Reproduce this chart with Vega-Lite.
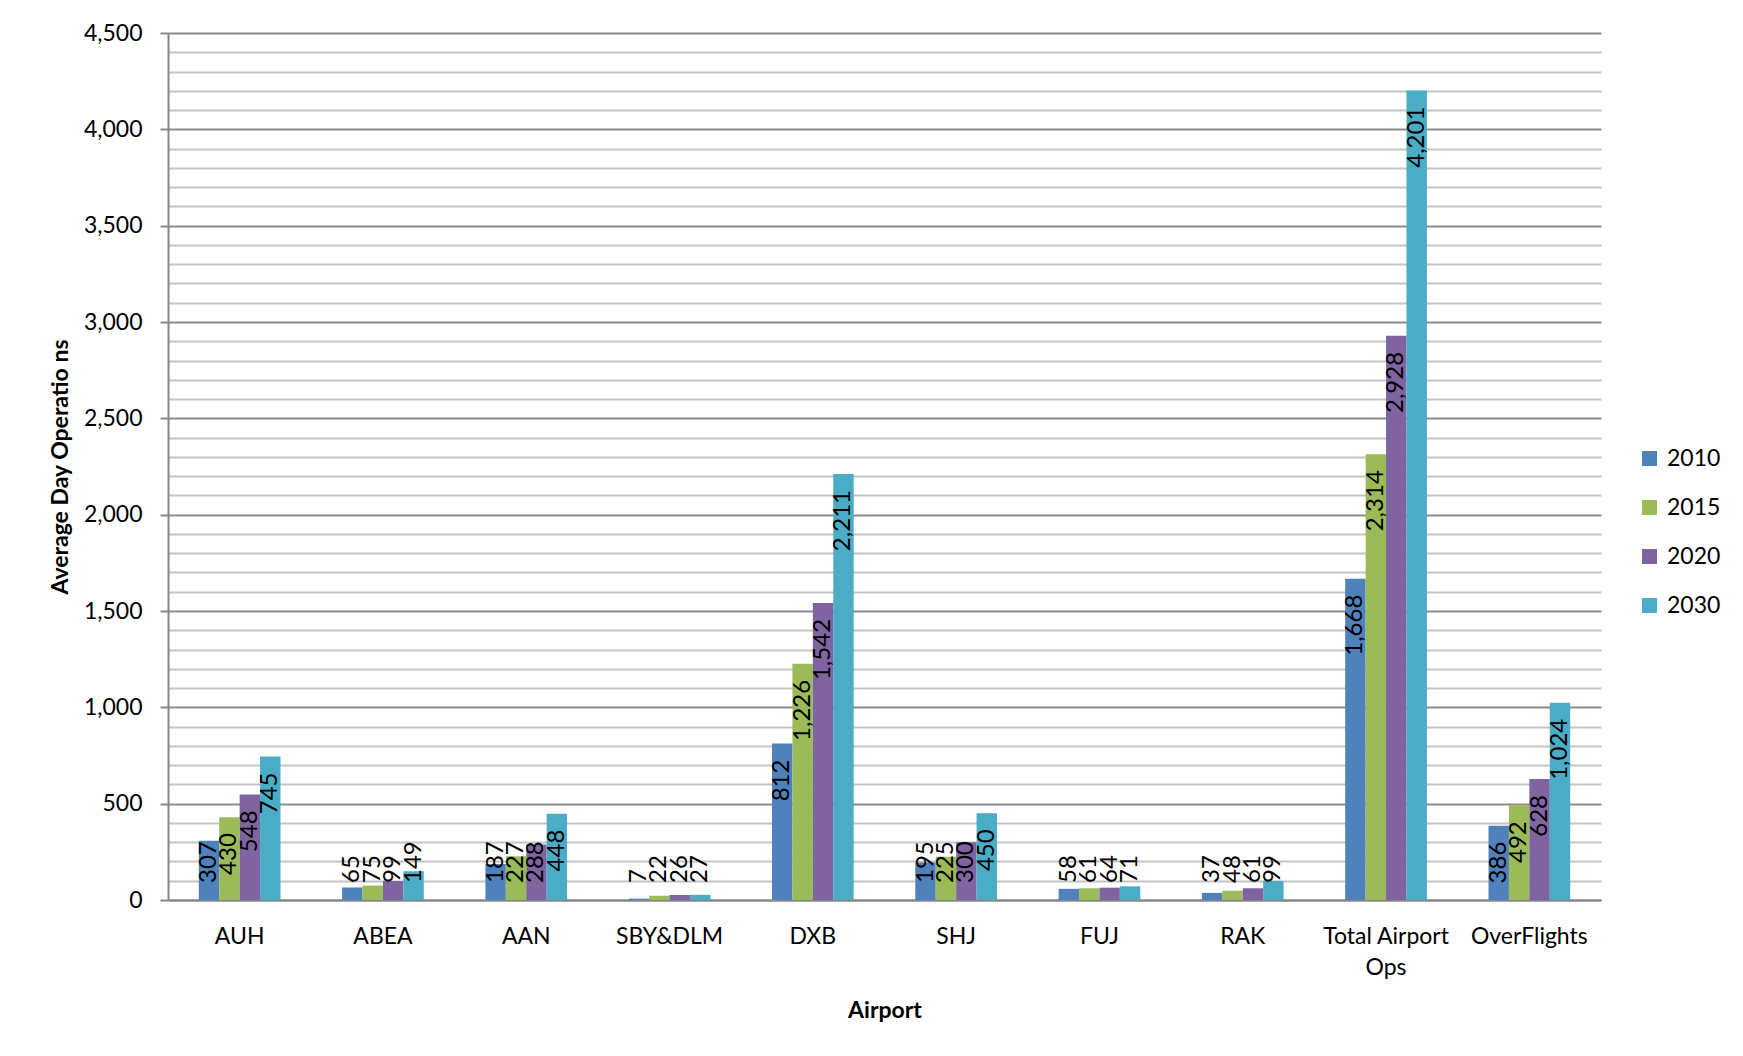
{
  "$schema": "https://vega.github.io/schema/vega-lite/v6.json",
  "autosize": "none",
  "width": 1433,
  "height": 867,
  "padding": {"left": 168, "top": 33, "right": 142, "bottom": 156},
  "background": "white",
  "config": {
    "font": "Lato",
    "view": {"stroke": null},
    "axis": {"labelFont": "Lato", "titleFont": "Lato", "labelColor": "black", "titleColor": "black"}
  },
  "data": {
    "values": [
      {"airport": "AUH", "year": "2010", "value": 307},
      {"airport": "AUH", "year": "2015", "value": 430},
      {"airport": "AUH", "year": "2020", "value": 548},
      {"airport": "AUH", "year": "2030", "value": 745},
      {"airport": "ABEA", "year": "2010", "value": 65},
      {"airport": "ABEA", "year": "2015", "value": 75},
      {"airport": "ABEA", "year": "2020", "value": 99},
      {"airport": "ABEA", "year": "2030", "value": 149},
      {"airport": "AAN", "year": "2010", "value": 187},
      {"airport": "AAN", "year": "2015", "value": 227},
      {"airport": "AAN", "year": "2020", "value": 288},
      {"airport": "AAN", "year": "2030", "value": 448},
      {"airport": "SBY&DLM", "year": "2010", "value": 7},
      {"airport": "SBY&DLM", "year": "2015", "value": 22},
      {"airport": "SBY&DLM", "year": "2020", "value": 26},
      {"airport": "SBY&DLM", "year": "2030", "value": 27},
      {"airport": "DXB", "year": "2010", "value": 812},
      {"airport": "DXB", "year": "2015", "value": 1226},
      {"airport": "DXB", "year": "2020", "value": 1542},
      {"airport": "DXB", "year": "2030", "value": 2211},
      {"airport": "SHJ", "year": "2010", "value": 195},
      {"airport": "SHJ", "year": "2015", "value": 225},
      {"airport": "SHJ", "year": "2020", "value": 300},
      {"airport": "SHJ", "year": "2030", "value": 450},
      {"airport": "FUJ", "year": "2010", "value": 58},
      {"airport": "FUJ", "year": "2015", "value": 61},
      {"airport": "FUJ", "year": "2020", "value": 64},
      {"airport": "FUJ", "year": "2030", "value": 71},
      {"airport": "RAK", "year": "2010", "value": 37},
      {"airport": "RAK", "year": "2015", "value": 48},
      {"airport": "RAK", "year": "2020", "value": 61},
      {"airport": "RAK", "year": "2030", "value": 99},
      {"airport": "Total Airport Ops", "year": "2010", "value": 1668},
      {"airport": "Total Airport Ops", "year": "2015", "value": 2314},
      {"airport": "Total Airport Ops", "year": "2020", "value": 2928},
      {"airport": "Total Airport Ops", "year": "2030", "value": 4201},
      {"airport": "OverFlights", "year": "2010", "value": 386},
      {"airport": "OverFlights", "year": "2015", "value": 492},
      {"airport": "OverFlights", "year": "2020", "value": 628},
      {"airport": "OverFlights", "year": "2030", "value": 1024}
    ]
  },
  "encoding": {
    "x": {
      "field": "airport",
      "type": "nominal",
      "sort": null,
      "scale": {"paddingInner": 0.43, "paddingOuter": 0.215},
      "axis": {
        "title": "Airport",
        "titleFontSize": 23,
        "titleFontWeight": "bold",
        "titlePadding": 20,
        "labelFontSize": 23,
        "labelAngle": 0,
        "labelPadding": 25,
        "labelLineHeight": 31,
        "labelExpr": "datum.label == 'Total Airport Ops' ? ['Total Airport', 'Ops'] : datum.label",
        "ticks": false,
        "domainColor": "#868686",
        "domainWidth": 2,
        "grid": false
      }
    },
    "xOffset": {"field": "year", "type": "nominal", "scale": {"paddingInner": 0, "paddingOuter": 0}},
    "y": {
      "field": "value",
      "type": "quantitative",
      "scale": {"domain": [0, 4500], "nice": false},
      "axis": {
        "title": "Average Day Operatio ns",
        "titleFontSize": 23,
        "titleFontWeight": "bold",
        "titlePadding": 11,
        "labelFontSize": 23,
        "labelPadding": 18,
        "values": [0,100,200,300,400,500,600,700,800,900,1000,1100,1200,1300,1400,1500,1600,1700,1800,1900,2000,2100,2200,2300,2400,2500,2600,2700,2800,2900,3000,3100,3200,3300,3400,3500,3600,3700,3800,3900,4000,4100,4200,4300,4400,4500],
        "labelExpr": "datum.value % 500 === 0 ? format(datum.value, ',') : ''",
        "tickSize": 8,
        "tickColor": {"condition": {"test": "datum.value % 500 === 0", "value": "#868686"}, "value": "rgba(0,0,0,0)"},
        "tickWidth": 2,
        "domainColor": "#868686",
        "domainWidth": 2,
        "grid": true,
        "gridColor": {"condition": {"test": "datum.value % 500 === 0", "value": "#8c8c8c"}, "value": "#c4c4c4"},
        "gridWidth": 2
      }
    }
  },
  "layer": [
    {
      "mark": {"type": "bar"},
      "encoding": {
        "color": {
          "field": "year",
          "type": "nominal",
          "scale": {"domain": ["2010", "2015", "2020", "2030"], "range": ["#4F81BD", "#9BBB59", "#8064A2", "#4BACC6"]},
          "legend": {
            "title": null,
            "orient": "none",
            "legendX": 1470,
            "legendY": 414,
            "symbolType": "square",
            "symbolSize": 225,
            "symbolStrokeWidth": 0,
            "labelFontSize": 23,
            "labelFont": "Lato",
            "labelColor": "black",
            "labelOffset": 6,
            "rowPadding": 25
          }
        }
      }
    },
    {
      "transform": [{"filter": "datum.value >= 380"}],
      "mark": {"type": "text", "angle": 270, "align": "right", "baseline": "middle", "dx": -16, "fontSize": 24, "font": "Lato", "color": "black"},
      "encoding": {"text": {"field": "value", "type": "quantitative", "format": ","}}
    },
    {
      "transform": [{"filter": "datum.value < 380"}],
      "mark": {"type": "text", "angle": 270, "align": "left", "baseline": "middle", "dx": 17, "fontSize": 24, "font": "Lato", "color": "black"},
      "encoding": {"y": {"datum": 0, "type": "quantitative"}, "text": {"field": "value", "type": "quantitative", "format": ","}}
    }
  ]
}
